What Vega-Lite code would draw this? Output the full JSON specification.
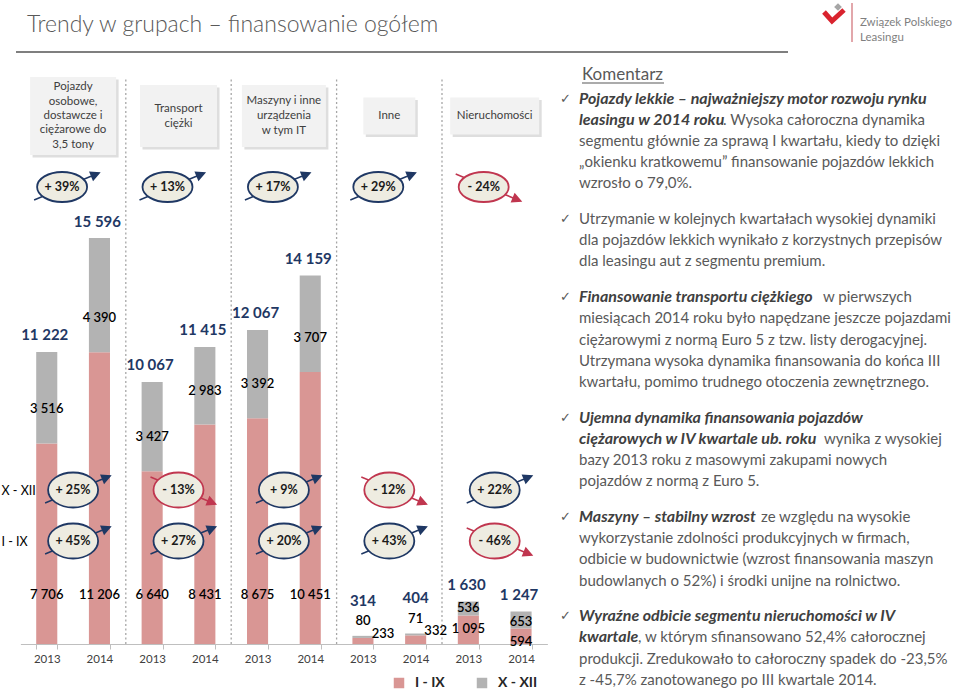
{
  "$schema": "https://vega.github.io/schema/vega-lite/v6.json",
  "width": 960,
  "height": 691,
  "autosize": {"type": "none"},
  "padding": 0,
  "background": "#ffffff",
  "config": {
    "view": {"stroke": null},
    "locale": {"number": {"decimal": ",", "thousands": " ", "grouping": [3], "currency": ["", " zł"]}},
    "text": {"font": "Lato"},
    "axis": {"labelFont": "Lato"},
    "legend": {"labelFont": "Lato"}
  },
  "datasets": {
    "bars": [
      {"key": "Pojazdy 2013", "group": "Pojazdy", "year": "2013", "period": "I - IX", "value": 7706},
      {"key": "Pojazdy 2013", "group": "Pojazdy", "year": "2013", "period": "X - XII", "value": 3516},
      {"key": "Pojazdy 2014", "group": "Pojazdy", "year": "2014", "period": "I - IX", "value": 11206},
      {"key": "Pojazdy 2014", "group": "Pojazdy", "year": "2014", "period": "X - XII", "value": 4390},
      {"key": "Transport 2013", "group": "Transport", "year": "2013", "period": "I - IX", "value": 6640},
      {"key": "Transport 2013", "group": "Transport", "year": "2013", "period": "X - XII", "value": 3427},
      {"key": "Transport 2014", "group": "Transport", "year": "2014", "period": "I - IX", "value": 8431},
      {"key": "Transport 2014", "group": "Transport", "year": "2014", "period": "X - XII", "value": 2983},
      {"key": "Maszyny 2013", "group": "Maszyny", "year": "2013", "period": "I - IX", "value": 8675},
      {"key": "Maszyny 2013", "group": "Maszyny", "year": "2013", "period": "X - XII", "value": 3392},
      {"key": "Maszyny 2014", "group": "Maszyny", "year": "2014", "period": "I - IX", "value": 10451},
      {"key": "Maszyny 2014", "group": "Maszyny", "year": "2014", "period": "X - XII", "value": 3707},
      {"key": "Inne 2013", "group": "Inne", "year": "2013", "period": "I - IX", "value": 233},
      {"key": "Inne 2013", "group": "Inne", "year": "2013", "period": "X - XII", "value": 80},
      {"key": "Inne 2014", "group": "Inne", "year": "2014", "period": "I - IX", "value": 332},
      {"key": "Inne 2014", "group": "Inne", "year": "2014", "period": "X - XII", "value": 71},
      {"key": "Nieruchomości 2013", "group": "Nieruchomości", "year": "2013", "period": "I - IX", "value": 1095},
      {"key": "Nieruchomości 2013", "group": "Nieruchomości", "year": "2013", "period": "X - XII", "value": 536},
      {"key": "Nieruchomości 2014", "group": "Nieruchomości", "year": "2014", "period": "I - IX", "value": 594},
      {"key": "Nieruchomości 2014", "group": "Nieruchomości", "year": "2014", "period": "X - XII", "value": 653}
    ],
    "totals": [
      {"key": "Pojazdy 2013", "group": "Pojazdy", "total": 11222},
      {"key": "Pojazdy 2014", "group": "Pojazdy", "total": 15596},
      {"key": "Transport 2013", "group": "Transport", "total": 10067},
      {"key": "Transport 2014", "group": "Transport", "total": 11415},
      {"key": "Maszyny 2013", "group": "Maszyny", "total": 12067},
      {"key": "Maszyny 2014", "group": "Maszyny", "total": 14159},
      {"key": "Inne 2013", "group": "Inne", "total": 314},
      {"key": "Inne 2014", "group": "Inne", "total": 404},
      {"key": "Nieruchomości 2013", "group": "Nieruchomości", "total": 1630},
      {"key": "Nieruchomości 2014", "group": "Nieruchomości", "total": 1247}
    ],
    "groups": [
      {"group": "Pojazdy", "label": ["Pojazdy", "osobowe,", "dostawcze i", "ciężarowe do", "3,5 tony"], "pct": "+ 39%", "dir": "up"},
      {"group": "Transport", "label": ["Transport", "ciężki"], "pct": "+ 13%", "dir": "up"},
      {"group": "Maszyny", "label": ["Maszyny i inne", "urządzenia", "w tym IT"], "pct": "+ 17%", "dir": "up"},
      {"group": "Inne", "label": ["Inne"], "pct": "+ 29%", "dir": "up"},
      {"group": "Nieruchomości", "label": ["Nieruchomości"], "pct": "- 24%", "dir": "down"}
    ],
    "dyn": [
      {"group": "Pojazdy", "row": "X - XII", "pct": "+ 25%", "dir": "up"},
      {"group": "Transport", "row": "X - XII", "pct": "- 13%", "dir": "down"},
      {"group": "Maszyny", "row": "X - XII", "pct": "+ 9%", "dir": "up"},
      {"group": "Inne", "row": "X - XII", "pct": "- 12%", "dir": "down"},
      {"group": "Nieruchomości", "row": "X - XII", "pct": "+ 22%", "dir": "up"},
      {"group": "Pojazdy", "row": "I - IX", "pct": "+ 45%", "dir": "up"},
      {"group": "Transport", "row": "I - IX", "pct": "+ 27%", "dir": "up"},
      {"group": "Maszyny", "row": "I - IX", "pct": "+ 20%", "dir": "up"},
      {"group": "Inne", "row": "I - IX", "pct": "+ 43%", "dir": "up"},
      {"group": "Nieruchomości", "row": "I - IX", "pct": "- 46%", "dir": "down"}
    ],
    "comments": [
      {"n": 0, "style": "head", "text": "Komentarz"},
      {"n": 1, "style": "check", "text": "✓"},
      {"n": 6, "style": "check", "text": "✓"},
      {"n": 9, "style": "check", "text": "✓"},
      {"n": 14, "style": "check", "text": "✓"},
      {"n": 18, "style": "check", "text": "✓"},
      {"n": 22, "style": "check", "text": "✓"},
      {"n": 1, "style": "bi", "text": "Pojazdy lekkie – najważniejszy motor rozwoju rynku"},
      {"n": 2, "style": "bi", "text": "leasingu w 2014 roku"},
      {"n": 2, "style": "cont", "text": ". Wysoka całoroczna dynamika"},
      {"n": 3, "style": "r", "text": "segmentu głównie za sprawą I kwartału, kiedy to dzięki"},
      {"n": 4, "style": "r", "text": "„okienku kratkowemu” finansowanie pojazdów lekkich"},
      {"n": 5, "style": "r", "text": "wzrosło o 79,0%."},
      {"n": 6, "style": "r", "text": "Utrzymanie w kolejnych kwartałach wysokiej dynamiki"},
      {"n": 7, "style": "r", "text": "dla pojazdów lekkich wynikało z korzystnych przepisów"},
      {"n": 8, "style": "r", "text": "dla leasingu aut z segmentu premium."},
      {"n": 9, "style": "bi", "text": "Finansowanie transportu ciężkiego"},
      {"n": 9, "style": "cont", "text": "w pierwszych"},
      {"n": 10, "style": "r", "text": "miesiącach 2014 roku było napędzane jeszcze pojazdami"},
      {"n": 11, "style": "r", "text": "ciężarowymi z normą Euro 5 z tzw. listy derogacyjnej."},
      {"n": 12, "style": "r", "text": "Utrzymana wysoka dynamika finansowania do końca III"},
      {"n": 13, "style": "r", "text": "kwartału, pomimo trudnego otoczenia zewnętrznego."},
      {"n": 14, "style": "bi", "text": "Ujemna dynamika finansowania pojazdów"},
      {"n": 15, "style": "bi", "text": "ciężarowych w IV kwartale ub. roku"},
      {"n": 15, "style": "cont", "text": "wynika z wysokiej"},
      {"n": 16, "style": "r", "text": "bazy 2013 roku z masowymi zakupami nowych"},
      {"n": 17, "style": "r", "text": "pojazdów z normą  z Euro 5."},
      {"n": 18, "style": "bi", "text": "Maszyny – stabilny wzrost"},
      {"n": 18, "style": "cont", "text": "ze względu na wysokie"},
      {"n": 19, "style": "r", "text": "wykorzystanie zdolności produkcyjnych w firmach,"},
      {"n": 20, "style": "r", "text": "odbicie w budownictwie (wzrost finansowania maszyn"},
      {"n": 21, "style": "r", "text": "budowlanych o 52%) i środki unijne na rolnictwo."},
      {"n": 22, "style": "bi", "text": "Wyraźne odbicie segmentu nieruchomości w IV"},
      {"n": 23, "style": "bi", "text": "kwartale"},
      {"n": 23, "style": "cont", "text": ", w którym sfinansowano 52,4% całorocznej"},
      {"n": 24, "style": "r", "text": "produkcji. Zredukowało to całoroczny spadek do -23,5%"},
      {"n": 25, "style": "r", "text": "z -45,7% zanotowanego po III kwartale 2014."}
    ],
    "frame": [{"text": "Trendy w grupach – finansowanie ogółem"}],
    "logo": [
      {"line": "line1", "text": "Związek Polskiego"},
      {"line": "line2", "text": "Leasingu"}
    ]
  },
  "layer": [
    {
      "data": {"name": "groups"},
      "transform": [{"filter": "datum.group != 'Pojazdy'"}],
      "mark": {"type": "rule", "color": "#A6A6A6", "strokeWidth": 1.3, "strokeDash": [2, 2.5]},
      "encoding": {
        "x": {"field": "group", "type": "nominal", "bandPosition": 0, "scale": {"domain": ["Pojazdy", "Transport", "Maszyny", "Inne", "Nieruchomości"], "range": [20.4, 547.4], "paddingInner": 0, "paddingOuter": 0}, "axis": null},
        "y": {"datum": 0, "type": "quantitative", "scale": {"domain": [0, 24740], "range": [644, 0], "nice": false, "zero": false}, "axis": null},
        "y2": {"datum": 21750}
      }
    },
    {
      "encoding": {
        "x": {
          "field": "key", "type": "nominal",
          "scale": {"domain": ["Pojazdy 2013", "Pojazdy 2014", "Transport 2013", "Transport 2014", "Maszyny 2013", "Maszyny 2014", "Inne 2013", "Inne 2014", "Nieruchomości 2013", "Nieruchomości 2014"], "range": [20.4, 547.4], "paddingInner": 0.6, "paddingOuter": 0.3},
          "axis": {"orient": "bottom", "offset": -47, "title": null, "labelExpr": "slice(datum.label, -4)", "labelAngle": 0, "labelFontSize": 11.5, "labelColor": "#404040", "labelPadding": 4, "domainColor": "#BFBFBF", "tickColor": "#BFBFBF", "tickSize": 5, "tickBand": "extent", "grid": false}
        }
      },
      "layer": [
        {
          "data": {"name": "bars"},
          "mark": {"type": "bar"},
          "encoding": {
            "y": {"field": "value", "type": "quantitative", "stack": "zero", "scale": {"domain": [0, 24740], "range": [644, 0], "nice": false, "zero": false}, "axis": null},
            "color": {"field": "period", "type": "nominal", "scale": {"domain": ["I - IX", "X - XII"], "range": ["#D99694", "#B3B3B3"]},
              "legend": {"orient": "none", "legendX": 392, "legendY": 676, "direction": "horizontal", "title": null, "symbolType": "square", "symbolSize": 110, "symbolStrokeWidth": 0, "labelFontSize": 14, "labelFontWeight": "bold", "labelColor": "#262626", "columnPadding": 30, "labelOffset": 9}},
            "order": {"field": "period", "type": "nominal", "sort": "ascending"}
          }
        },
        {
          "data": {"name": "totals"},
          "transform": [{"filter": "datum.group != 'Inne'"}],
          "mark": {"type": "text", "fontWeight": "bold", "fontSize": 15, "color": "#1F3864", "dy": -16.5, "dx": -2, "baseline": "middle"},
          "encoding": {"y": {"field": "total", "type": "quantitative"}, "text": {"field": "total", "type": "quantitative", "format": ",d"}}
        },
        {
          "data": {"name": "totals"},
          "transform": [{"filter": "datum.group == 'Inne'"}],
          "mark": {"type": "text", "fontWeight": "bold", "fontSize": 15, "color": "#1F3864", "dy": -35, "baseline": "middle"},
          "encoding": {"y": {"field": "total", "type": "quantitative"}, "text": {"field": "total", "type": "quantitative", "format": ",d"}}
        },
        {
          "data": {"name": "bars"},
          "transform": [
            {"stack": "value", "groupby": ["key"], "sort": [{"field": "period", "order": "ascending"}], "as": ["v0", "v1"]},
            {"filter": "datum.period == 'X - XII' && datum.group != 'Inne' && datum.group != 'Nieruchomości'"}
          ],
          "mark": {"type": "text", "fontWeight": 600, "fontSize": 13, "color": "#000000", "dy": -34, "baseline": "middle"},
          "encoding": {"y": {"field": "v0", "type": "quantitative"}, "text": {"field": "value", "type": "quantitative", "format": ",d"}}
        },
        {
          "data": {"name": "bars"},
          "transform": [
            {"stack": "value", "groupby": ["key"], "sort": [{"field": "period", "order": "ascending"}], "as": ["v0", "v1"]},
            {"filter": "datum.period == 'X - XII' && datum.group == 'Nieruchomości'"}
          ],
          "mark": {"type": "text", "fontWeight": 600, "fontSize": 13, "color": "#000000", "dy": -7, "baseline": "middle"},
          "encoding": {"y": {"field": "v0", "type": "quantitative"}, "text": {"field": "value", "type": "quantitative", "format": ",d"}}
        },
        {
          "data": {"name": "bars"},
          "transform": [
            {"stack": "value", "groupby": ["key"], "sort": [{"field": "period", "order": "ascending"}], "as": ["v0", "v1"]},
            {"filter": "datum.period == 'X - XII' && datum.group == 'Inne'"}
          ],
          "mark": {"type": "text", "fontWeight": 600, "fontSize": 13, "color": "#000000", "dy": -16.5, "baseline": "middle"},
          "encoding": {"y": {"field": "v0", "type": "quantitative"}, "text": {"field": "value", "type": "quantitative", "format": ",d"}}
        },
        {
          "data": {"name": "bars"},
          "transform": [{"filter": "datum.period == 'I - IX' && datum.group != 'Inne' && datum.group != 'Nieruchomości'"}],
          "mark": {"type": "text", "fontWeight": 600, "fontSize": 13, "color": "#000000", "baseline": "middle"},
          "encoding": {"y": {"datum": 1882, "type": "quantitative"}, "text": {"field": "value", "type": "quantitative", "format": ",d"}}
        },
        {
          "data": {"name": "bars"},
          "transform": [{"filter": "datum.period == 'I - IX' && datum.group == 'Nieruchomości'"}],
          "mark": {"type": "text", "fontWeight": 600, "fontSize": 13, "color": "#000000", "dy": 13.5, "baseline": "middle"},
          "encoding": {"y": {"field": "value", "type": "quantitative"}, "text": {"field": "value", "type": "quantitative", "format": ",d"}}
        },
        {
          "data": {"name": "bars"},
          "transform": [{"filter": "datum.period == 'I - IX' && datum.group == 'Inne'"}],
          "mark": {"type": "text", "fontWeight": 600, "fontSize": 13, "color": "#000000", "dx": 20, "dy": -4, "baseline": "middle"},
          "encoding": {"y": {"field": "value", "type": "quantitative"}, "text": {"field": "value", "type": "quantitative", "format": ",d"}}
        }
      ]
    },
    {
      "data": {"name": "groups"},
      "encoding": {
        "x": {"field": "group", "type": "nominal", "scale": {"domain": ["Pojazdy", "Transport", "Maszyny", "Inne", "Nieruchomości"], "range": [20.4, 547.4], "paddingInner": 0, "paddingOuter": 0}, "axis": null}
      },
      "layer": [
        {
          "mark": {"type": "point", "filled": true, "size": 10000, "fill": "#C8C8C8", "opacity": 0.6, "strokeWidth": 0, "xOffset": 2.5, "yOffset": 2.5},
          "encoding": {
            "y": {"datum": "box", "type": "nominal", "scale": {"type": "point", "domain": ["box", "I - XII"], "range": [116, 187], "padding": 0}, "axis": null},
            "shape": {"field": "group", "type": "nominal", "scale": {"domain": ["Pojazdy", "Transport", "Maszyny", "Inne", "Nieruchomości"], "range": ["M-0.86,-0.78H0.86V0.78H-0.86Z", "M-0.77,-0.62H0.77V0.62H-0.77Z", "M-0.84,-0.62H0.84V0.62H-0.84Z", "M-0.52,-0.37H0.52V0.37H-0.52Z", "M-0.89,-0.37H0.89V0.37H-0.89Z"]}, "legend": null}
          }
        },
        {
          "mark": {"type": "point", "filled": true, "size": 10000, "fill": "#F2F2F2", "opacity": 1, "strokeWidth": 0},
          "encoding": {
            "y": {"datum": "box", "type": "nominal"},
            "shape": {"field": "group", "type": "nominal", "legend": null}
          }
        },
        {
          "transform": [{"filter": "length(datum.label) == 5"}],
          "mark": {"type": "text", "fontSize": 11.5, "lineHeight": 14.3, "color": "#404040", "baseline": "middle", "align": "center", "dy": -28.6},
          "encoding": {"y": {"datum": "box", "type": "nominal"}, "text": {"field": "label"}}
        },
        {
          "transform": [{"filter": "length(datum.label) == 3"}],
          "mark": {"type": "text", "fontSize": 11.5, "lineHeight": 15, "color": "#404040", "baseline": "middle", "align": "center", "dy": -15},
          "encoding": {"y": {"datum": "box", "type": "nominal"}, "text": {"field": "label"}}
        },
        {
          "transform": [{"filter": "length(datum.label) == 2"}],
          "mark": {"type": "text", "fontSize": 11.5, "lineHeight": 15, "color": "#404040", "baseline": "middle", "align": "center", "dy": -7.5},
          "encoding": {"y": {"datum": "box", "type": "nominal"}, "text": {"field": "label"}}
        },
        {
          "transform": [{"filter": "length(datum.label) == 1"}],
          "mark": {"type": "text", "fontSize": 11.5, "color": "#404040", "baseline": "middle", "align": "center"},
          "encoding": {"y": {"datum": "box", "type": "nominal"}, "text": {"field": "label"}}
        },
        {
          "transform": [{"filter": "datum.dir == 'up'"}],
          "mark": {"type": "point", "filled": true, "size": 2500, "shape": "M-1.12,0.52L1.18,-0.44M1.48,-0.56L1.246,-0.289L1.123,-0.585Z", "fill": "#1F3864", "stroke": "#1F3864", "strokeWidth": 1.5, "opacity": 1, "xOffset": -11},
          "encoding": {"y": {"datum": "I - XII", "type": "nominal"}}
        },
        {
          "transform": [{"filter": "datum.dir == 'down'"}],
          "mark": {"type": "point", "filled": true, "size": 2500, "shape": "M-1.12,-0.52L1.18,0.44M1.48,0.56L1.246,0.289L1.123,0.585Z", "fill": "#C0364F", "stroke": "#C0364F", "strokeWidth": 1.5, "opacity": 1, "xOffset": -11},
          "encoding": {"y": {"datum": "I - XII", "type": "nominal"}}
        },
        {
          "mark": {"type": "point", "filled": true, "size": 2500, "shape": "M-1,0A1,0.6 0 1,0 1,0A1,0.6 0 1,0 -1,0Z", "fill": "#EEECE1", "strokeWidth": 1.8, "opacity": 1, "xOffset": -11},
          "encoding": {
            "y": {"datum": "I - XII", "type": "nominal"},
            "stroke": {"field": "dir", "type": "nominal", "scale": {"domain": ["up", "down"], "range": ["#1F3864", "#C0364F"]}, "legend": null}
          }
        },
        {
          "mark": {"type": "text", "fontSize": 12.5, "fontWeight": "bold", "color": "#1A1A1A", "baseline": "middle", "align": "center", "dx": -11},
          "encoding": {"y": {"datum": "I - XII", "type": "nominal"}, "text": {"field": "pct"}}
        }
      ]
    },
    {
      "data": {"name": "dyn"},
      "encoding": {
        "x": {"field": "group", "type": "nominal", "scale": {"domain": ["Pojazdy", "Transport", "Maszyny", "Inne", "Nieruchomości"], "range": [20.4, 547.4], "paddingInner": 0, "paddingOuter": 0}, "axis": null},
        "y": {"field": "row", "type": "nominal", "scale": {"type": "point", "domain": ["X - XII", "I - IX"], "range": [490, 541], "padding": 0},
          "axis": {"orient": "left", "title": null, "domain": false, "ticks": false, "tickSize": 0, "grid": false, "labelAlign": "left", "labelPadding": 0, "offset": -1, "labelFontSize": 12.5, "labelColor": "#000000", "labelBaseline": "middle"}}
      },
      "layer": [
        {
          "transform": [{"filter": "datum.dir == 'up'"}],
          "mark": {"type": "point", "filled": true, "size": 2500, "shape": "M-1.12,0.52L1.18,-0.44M1.48,-0.56L1.246,-0.289L1.123,-0.585Z", "fill": "#1F3864", "stroke": "#1F3864", "strokeWidth": 1.5, "opacity": 1}
        },
        {
          "transform": [{"filter": "datum.dir == 'down'"}],
          "mark": {"type": "point", "filled": true, "size": 2500, "shape": "M-1.12,-0.52L1.18,0.44M1.48,0.56L1.246,0.289L1.123,0.585Z", "fill": "#C0364F", "stroke": "#C0364F", "strokeWidth": 1.5, "opacity": 1}
        },
        {
          "mark": {"type": "point", "filled": true, "size": 2500, "shape": "M-1,0A1,0.7 0 1,0 1,0A1,0.7 0 1,0 -1,0Z", "fill": "#EEECE1", "strokeWidth": 1.8, "opacity": 1},
          "encoding": {"stroke": {"field": "dir", "type": "nominal", "scale": {"domain": ["up", "down"], "range": ["#1F3864", "#C0364F"]}, "legend": null}}
        },
        {
          "mark": {"type": "text", "fontSize": 12.5, "fontWeight": "bold", "color": "#1A1A1A", "baseline": "middle", "align": "center"},
          "encoding": {"text": {"field": "pct"}}
        }
      ]
    },
    {
      "data": {"name": "comments"},
      "encoding": {
        "x": {"datum": "text", "type": "nominal", "scale": {"type": "point", "domain": ["check", "text"], "range": [560, 579], "padding": 0}, "axis": null},
        "y": {"field": "n", "type": "quantitative", "scale": {"domain": [0, 1, 5, 6, 8, 9, 13, 14, 17, 18, 21, 22, 25], "range": [75, 98.5, 183.3, 219, 261.4, 297.1, 381.9, 417.6, 481.2, 516.9, 580.5, 616.2, 679.8], "nice": false, "zero": false}, "axis": null}
      },
      "layer": [
        {
          "transform": [{"filter": "datum.style == 'head'"}],
          "mark": {"type": "text", "fontSize": 17, "color": "#595959", "align": "left", "baseline": "middle", "dx": 3},
          "encoding": {"text": {"field": "text"}}
        },
        {
          "transform": [{"filter": "datum.style == 'head'"}],
          "mark": {"type": "point", "filled": false, "size": 26896, "shape": "M0,0H1", "stroke": "#595959", "strokeWidth": 1.2, "opacity": 1, "xOffset": 3, "yOffset": 8}
        },
        {
          "transform": [{"filter": "datum.style == 'check'"}],
          "mark": {"type": "text", "font": "DejaVu Sans", "fontSize": 13, "color": "#595959", "align": "left", "baseline": "middle"},
          "encoding": {"x": {"datum": "check", "type": "nominal"}, "text": {"field": "text"}}
        },
        {
          "transform": [{"filter": "datum.style == 'r'"}],
          "mark": {"type": "text", "fontSize": 15, "color": "#595959", "align": "left", "baseline": "middle"},
          "encoding": {"text": {"field": "text"}}
        },
        {
          "transform": [{"filter": "datum.style == 'bi'"}],
          "mark": {"type": "text", "fontSize": 16, "fontWeight": "bold", "fontStyle": "italic", "color": "#404040", "align": "left", "baseline": "middle"},
          "encoding": {"text": {"field": "text"}}
        },
        {
          "transform": [{"filter": "datum.style == 'cont' && datum.n == 2"}],
          "mark": {"type": "text", "fontSize": 15, "color": "#595959", "align": "left", "baseline": "middle", "dx": 144},
          "encoding": {"text": {"field": "text"}}
        },
        {
          "transform": [{"filter": "datum.style == 'cont' && datum.n == 9"}],
          "mark": {"type": "text", "fontSize": 15, "color": "#595959", "align": "left", "baseline": "middle", "dx": 244},
          "encoding": {"text": {"field": "text"}}
        },
        {
          "transform": [{"filter": "datum.style == 'cont' && datum.n == 15"}],
          "mark": {"type": "text", "fontSize": 15, "color": "#595959", "align": "left", "baseline": "middle", "dx": 245},
          "encoding": {"text": {"field": "text"}}
        },
        {
          "transform": [{"filter": "datum.style == 'cont' && datum.n == 18"}],
          "mark": {"type": "text", "fontSize": 15, "color": "#595959", "align": "left", "baseline": "middle", "dx": 182},
          "encoding": {"text": {"field": "text"}}
        },
        {
          "transform": [{"filter": "datum.style == 'cont' && datum.n == 23"}],
          "mark": {"type": "text", "fontSize": 15, "color": "#595959", "align": "left", "baseline": "middle", "dx": 59},
          "encoding": {"text": {"field": "text"}}
        }
      ]
    },
    {
      "data": {"name": "frame"},
      "encoding": {
        "x": {"datum": "left", "type": "nominal", "scale": {"type": "point", "domain": ["left", "right"], "range": [16, 788], "padding": 0}, "axis": null}
      },
      "layer": [
        {
          "mark": {"type": "text", "fontSize": 23, "fontWeight": 300, "color": "#595959", "align": "left", "baseline": "middle", "dx": 11},
          "encoding": {
            "y": {"datum": "title", "type": "nominal", "scale": {"type": "point", "domain": ["title", "rule"], "range": [25, 52], "padding": 0}, "axis": null},
            "text": {"field": "text"}
          }
        },
        {
          "mark": {"type": "rule", "color": "#7F7F7F", "strokeWidth": 2.2},
          "encoding": {
            "x2": {"datum": "right"},
            "y": {"datum": "rule", "type": "nominal"}
          }
        }
      ]
    },
    {
      "data": {"name": "logo"},
      "encoding": {
        "x": {"datum": "text", "type": "nominal", "scale": {"type": "point", "domain": ["icon", "bar", "text"], "range": [834, 860], "padding": 0}, "axis": null},
        "y": {"field": "line", "type": "nominal", "scale": {"type": "point", "domain": ["line1", "line2"], "range": [23, 38], "padding": 0}, "axis": null}
      },
      "layer": [
        {
          "mark": {"type": "text", "fontSize": 11.5, "color": "#7F7F7F", "align": "left", "baseline": "middle"},
          "encoding": {"text": {"field": "text"}}
        },
        {
          "transform": [{"filter": "datum.line == 'line1'"}],
          "mark": {"type": "rule", "color": "#D98A8F", "strokeWidth": 1.5, "xOffset": 5, "yOffset": -20, "y2Offset": 4},
          "encoding": {"x": {"datum": "bar", "type": "nominal"}, "y": {"datum": "line1", "type": "nominal"}, "y2": {"datum": "line2"}}
        },
        {
          "transform": [{"filter": "datum.line == 'line1'"}],
          "mark": {"type": "point", "filled": false, "size": 400, "shape": "M-1,-0.3L-0.2,0.6L1,-0.5", "stroke": "#D9232E", "strokeWidth": 5, "opacity": 1, "yOffset": -8},
          "encoding": {"x": {"datum": "icon", "type": "nominal"}, "y": {"datum": "line1", "type": "nominal"}}
        },
        {
          "transform": [{"filter": "datum.line == 'line1'"}],
          "mark": {"type": "point", "filled": true, "size": 60, "shape": "diamond", "fill": "#A6A6A6", "opacity": 1, "xOffset": 4, "yOffset": -16},
          "encoding": {"x": {"datum": "icon", "type": "nominal"}, "y": {"datum": "line1", "type": "nominal"}}
        }
      ]
    }
  ],
  "resolve": {"scale": {"x": "independent", "y": "independent"}}
}
